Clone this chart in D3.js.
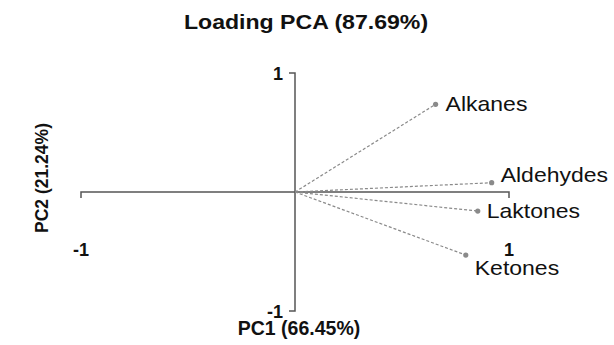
<!DOCTYPE html>
<html>
<head>
<meta charset="utf-8">
<script src="https://cdn.jsdelivr.net/npm/d3@7"></script>
<style>
  body { margin: 0; background: #fff; }
  text { font-family: "Liberation Sans", Arial, sans-serif; fill: #111; }
</style>
</head>
<body>
<svg id="chart" width="614" height="345"></svg>
<script>
// loadings
const variables = ["Alkanes", "Aldehydes", "Laktones", "Ketones"];
const pc1 = [0.657, 0.919, 0.854, 0.798];
const pc2 = [0.737, 0.078, -0.16, -0.53];
const ticks = [-1, 1];

const title = "Loading PCA (87.69%)";
const xTitle = "PC1 (66.45%)";
const yTitle = "PC2 (21.24%)";

// label nudges (px) so names sit like the original
const labelDx = [10, 9, 9, 9];
const labelDy = [0, -8, 0, 13];

const svg = d3.select("#chart");
const x = d3.scaleLinear().domain([-1, 1]).range([81, 509]);
const y = d3.scaleLinear().domain([-1, 1]).range([311, 73]);

const axisColor = "#555";

// horizontal axis, small ticks hanging down at both ends
svg.append("path")
  .attr("d", `M${x(-1)},${y(0) + 6} V${y(0)} H${x(1)} V${y(0) + 6}`)
  .attr("fill", "none").attr("stroke", axisColor).attr("stroke-width", 1.5);

// vertical axis, ticks pointing left
svg.append("path")
  .attr("d", `M${x(0) - 6},${y(1)} H${x(0)} V${y(-1)} H${x(0) - 6}`)
  .attr("fill", "none").attr("stroke", axisColor).attr("stroke-width", 1.5);

// tick labels
svg.selectAll(".xt").data(ticks).join("text")
  .attr("class", "xt")
  .attr("x", d => x(d))
  .attr("y", 250)
  .attr("text-anchor", "middle")
  .attr("dominant-baseline", "central")
  .style("font-weight", "bold").style("font-size", "18px")
  .text(d => d);

svg.selectAll(".yt").data(ticks).join("text")
  .attr("class", "yt")
  .attr("x", x(0) - 12)
  .attr("y", d => y(d) + 1)
  .attr("text-anchor", "end")
  .attr("dominant-baseline", "central")
  .style("font-weight", "bold").style("font-size", "18px")
  .text(d => d);

// loading vectors
const idx = d3.range(variables.length);
svg.selectAll(".vec").data(idx).join("line")
  .attr("class", "vec")
  .attr("x1", x(0)).attr("y1", y(0))
  .attr("x2", i => x(pc1[i])).attr("y2", i => y(pc2[i]))
  .attr("stroke", "#8a8a8a").attr("stroke-width", 1.2)
  .attr("stroke-dasharray", "3,2");

svg.selectAll(".pt").data(idx).join("circle")
  .attr("class", "pt")
  .attr("cx", i => x(pc1[i])).attr("cy", i => y(pc2[i]))
  .attr("r", 2.6).attr("fill", "#8a8a8a");

svg.selectAll(".lab").data(idx).join("text")
  .attr("class", "lab")
  .attr("transform", i => `translate(${x(pc1[i]) + labelDx[i]},${y(pc2[i]) + labelDy[i]}) scale(1.15,1)`)
  .attr("dominant-baseline", "central")
  .style("font-size", "20px")
  .text(i => variables[i]);

// titles
svg.append("text")
  .attr("transform", "translate(306,29) scale(1.1,1)")
  .attr("text-anchor", "middle")
  .style("font-weight", "bold").style("font-size", "21px")
  .text(title);

svg.append("text")
  .attr("x", 299).attr("y", 335)
  .attr("text-anchor", "middle")
  .style("font-weight", "bold").style("font-size", "19.5px")
  .text(xTitle);

svg.append("text")
  .attr("transform", "translate(48,178) rotate(-90)")
  .attr("text-anchor", "middle")
  .style("font-weight", "bold").style("font-size", "17.5px")
  .text(yTitle);
</script>
</body>
</html>
